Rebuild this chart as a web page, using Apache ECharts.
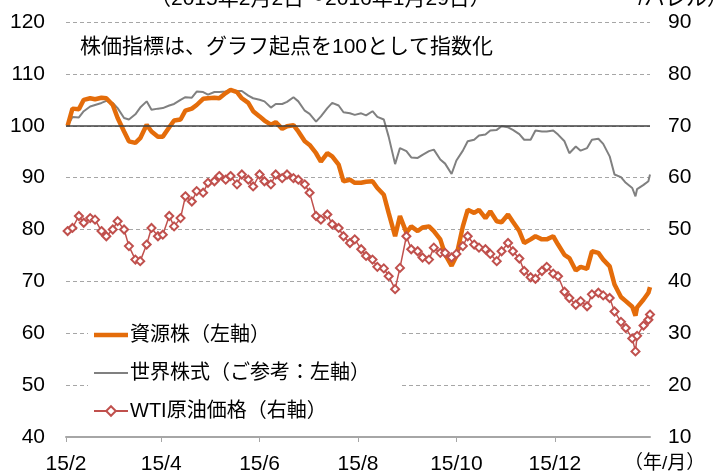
<!DOCTYPE html>
<html>
<head>
<meta charset="utf-8">
<script src="https://cdn.jsdelivr.net/npm/echarts@6/dist/echarts.min.js"></script>
<style>
html,body{margin:0;padding:0;background:#fff;}
#chart{width:728px;height:475px;}
</style>
</head>
<body>
<div id="chart"></div>
<script>
// ---- data ----
const dates = [
 '2015-02-02','2015-02-05','2015-02-09','2015-02-12','2015-02-16','2015-02-19','2015-02-23','2015-02-26',
 '2015-03-02','2015-03-05','2015-03-09','2015-03-12','2015-03-16','2015-03-19','2015-03-23','2015-03-26','2015-03-30',
 '2015-04-02','2015-04-06','2015-04-09','2015-04-13','2015-04-16','2015-04-20','2015-04-23','2015-04-27','2015-04-30',
 '2015-05-04','2015-05-07','2015-05-11','2015-05-14','2015-05-18','2015-05-21','2015-05-25','2015-05-28',
 '2015-06-01','2015-06-04','2015-06-08','2015-06-11','2015-06-15','2015-06-18','2015-06-22','2015-06-25','2015-06-29',
 '2015-07-02','2015-07-06','2015-07-09','2015-07-13','2015-07-16','2015-07-20','2015-07-23','2015-07-27','2015-07-30',
 '2015-08-03','2015-08-06','2015-08-10','2015-08-13','2015-08-17','2015-08-20','2015-08-24','2015-08-27','2015-08-31',
 '2015-09-03','2015-09-07','2015-09-10','2015-09-14','2015-09-17','2015-09-21','2015-09-24','2015-09-28',
 '2015-10-01','2015-10-05','2015-10-08','2015-10-12','2015-10-15','2015-10-19','2015-10-22','2015-10-26','2015-10-29',
 '2015-11-02','2015-11-05','2015-11-09','2015-11-12','2015-11-16','2015-11-19','2015-11-23','2015-11-26','2015-11-30',
 '2015-12-03','2015-12-07','2015-12-10','2015-12-14','2015-12-17','2015-12-21','2015-12-24','2015-12-28','2015-12-31',
 '2016-01-04','2016-01-07','2016-01-11','2016-01-14','2016-01-18','2016-01-20','2016-01-21','2016-01-25','2016-01-28','2016-01-29'
];
const resource = [
 100.0,103.3,103.2,105.0,105.3,105.1,105.4,105.3,
 104.0,101.5,98.9,97.0,96.7,97.6,100.2,98.9,97.9,
 97.9,99.7,101.0,101.2,102.9,103.3,104.0,105.2,105.3,
 105.4,105.3,106.3,106.9,106.5,105.3,104.4,102.8,
 101.8,101.0,100.2,100.7,99.4,99.9,100.1,98.9,97.0,
 96.3,94.7,93.1,94.7,94.1,92.5,89.3,89.6,89.0,
 89.0,89.2,89.3,88.0,86.7,83.2,78.7,82.6,79.4,
 80.6,79.7,80.4,80.6,79.7,78.1,75.2,73.0,
 74.9,80.6,83.8,83.2,83.8,82.2,83.5,81.6,81.4,
 82.9,81.5,79.7,77.4,78.1,78.7,78.1,78.1,78.7,
 77.1,75.1,74.5,72.1,72.8,72.4,75.8,75.5,74.2,
 72.9,69.4,67.0,66.2,65.1,63.4,65.0,66.5,67.8,68.9
];
const world = [
 100.0,101.7,101.6,102.8,103.7,104.0,104.4,104.8,
 104.4,103.4,101.5,101.2,102.2,103.5,104.7,103.1,103.3,
 103.4,103.9,104.2,105.0,105.5,105.4,106.6,106.5,106.0,
 106.5,106.5,106.6,106.9,106.7,106.7,105.8,105.3,
 105.0,104.7,103.5,104.2,104.2,104.6,105.5,104.7,102.9,
 102.3,100.8,101.8,103.4,104.4,103.9,102.6,102.4,102.1,
 102.4,102.0,102.8,101.7,101.2,97.9,92.6,95.7,95.1,
 93.9,93.8,94.4,95.1,95.4,93.5,92.7,90.7,
 93.3,95.2,97.0,97.3,98.1,98.3,99.1,99.2,99.9,
 99.7,99.2,98.4,97.3,97.3,99.1,98.9,98.9,99.1,
 98.3,97.0,94.7,96.0,95.2,95.7,97.3,97.5,96.5,
 94.1,90.6,90.1,89.0,88.0,86.4,87.8,88.6,89.3,90.6
];
const wti = [
 49.7,50.3,52.6,51.3,52.2,51.9,49.7,48.7,
 50.0,51.6,50.0,46.8,44.2,43.9,47.1,50.3,48.7,
 49.0,52.6,50.6,52.2,56.4,55.4,57.4,57.1,59.0,
 59.3,60.3,59.6,60.3,58.7,60.6,59.6,58.3,
 60.6,59.3,58.7,60.6,59.9,60.6,59.9,59.6,58.7,
 57.1,52.6,51.9,52.9,51.0,50.3,48.7,47.4,48.1,
 46.2,44.9,44.2,42.8,42.5,41.0,38.5,42.6,48.7,
 46.2,45.8,44.6,44.2,46.5,45.5,45.5,44.6,
 45.3,46.8,48.7,47.1,46.5,46.2,45.3,43.9,45.8,
 47.4,45.8,44.4,42.0,40.8,40.5,42.0,42.8,41.5,
 41.0,38.0,36.8,35.5,36.2,35.2,37.5,37.8,37.3,
 36.8,34.2,32.2,31.0,29.0,26.5,29.5,31.5,32.6,33.6
];
const tickDates = ['2015-02-01','2015-04-01','2015-06-01','2015-08-01','2015-10-01','2015-12-01'];
const tickLabels = ['15/2','15/4','15/6','15/8','15/10','15/12'];
const axisStart = '2015-02-01';
const axisEnd = '2016-01-29';
const seriesNames = ['資源株（左軸）','世界株式（ご参考：左軸）','WTI原油価格（右軸）'];

// ---- helpers ----
function dayIdx(s){
  const p = s.split('-').map(Number);
  const a = axisStart.split('-').map(Number);
  return (Date.UTC(p[0],p[1]-1,p[2]) - Date.UTC(a[0],a[1]-1,a[2]))/86400000;
}
const xs = dates.map(dayIdx);
const tickVals = tickDates.map(dayIdx);
const pair = arr => arr.map((v,i)=>[xs[i], v]);

const FONT = '"Liberation Sans", Arial, "Noto Sans CJK JP", sans-serif';
const chart = echarts.init(document.getElementById('chart'), null, {renderer:'canvas'});
chart.setOption({
  animation:false,
  backgroundColor:'#fff',
  textStyle:{fontFamily:FONT},
  grid:{left:66, right:78, top:22, bottom:38, containLabel:false},
  xAxis:{
    type:'value', min:0, max:dayIdx(axisEnd),
    axisLine:{show:true, lineStyle:{color:'#a6a6a6', width:2}},
    axisTick:{show:true, customValues:tickVals, length:5, lineStyle:{color:'#a6a6a6', width:1}},
    axisLabel:{show:true, customValues:tickVals, margin:17, color:'#000', fontSize:21, fontFamily:FONT,
      formatter:v=>{const i=tickVals.indexOf(v); return i>=0?tickLabels[i]:'';}},
    splitLine:{show:false}
  },
  yAxis:[
    {type:'value', min:40, max:120, interval:10, position:'left',
     axisLine:{show:false}, axisTick:{show:false},
     axisLabel:{color:'#000', fontSize:21, margin:21, fontFamily:FONT},
     splitLine:{show:true, lineStyle:{color:'#a6a6a6', type:[4,3], width:1}}},
    {type:'value', min:10, max:90, interval:10, position:'right',
     axisLine:{show:false}, axisTick:{show:false},
     axisLabel:{color:'#000', fontSize:21, margin:18, fontFamily:FONT},
     splitLine:{show:false}}
  ],
  legend:{
    orient:'vertical', left:88, top:320, itemGap:18,
    itemWidth:34, itemHeight:12, symbolKeepAspect:true,
    backgroundColor:'#fff', padding:[5,30,8,5],
    textStyle:{color:'#000', fontSize:20, fontFamily:FONT, padding:[0,0,0,-3]},
    data:[
      {name:seriesNames[0], icon:'path://M0,0h34v4.5h-34z'},
      {name:seriesNames[1], icon:'path://M0,0h34v2h-34z'},
      {name:seriesNames[2]}
    ]
  },
  graphic:[
    {type:'text', left:150, top:-11, style:{text:'（2015年2月2日～2016年1月29日）', fontSize:21, fontFamily:FONT, fill:'#000'}},
    {type:'text', right:0, top:-11, style:{text:'/バレル）', fontSize:21, fontFamily:FONT, fill:'#000'}},
    {type:'text', left:80, top:37, style:{text:'株価指標は、グラフ起点を100として指数化', fontSize:21, fontFamily:FONT, fill:'#000'}},
    {type:'text', left:624, top:454, style:{text:'（年/月）', fontSize:19, fontFamily:FONT, fill:'#000'}}
  ],
  series:[
    {name:seriesNames[0], type:'line', yAxisIndex:0, data:pair(resource), symbol:'none',
     lineStyle:{color:'#E46C0A', width:4.5}, itemStyle:{color:'#E46C0A'}, z:3},
    {name:seriesNames[1], type:'line', yAxisIndex:0, data:pair(world), symbol:'none',
     lineStyle:{color:'#808080', width:2}, itemStyle:{color:'#808080'}, z:2,
     markLine:{silent:true, symbol:['none','none'], label:{show:false},
       lineStyle:{color:'#404040', type:'solid', width:1.5}, data:[{yAxis:100}]}},
    {name:seriesNames[2], type:'line', yAxisIndex:1, data:pair(wti), symbol:'emptyDiamond', symbolSize:8,
     showAllSymbol:true,
     lineStyle:{color:'#C0504D', width:1.5}, itemStyle:{color:'#C0504D', borderWidth:1}, z:4}
  ]
});
</script>
</body>
</html>
